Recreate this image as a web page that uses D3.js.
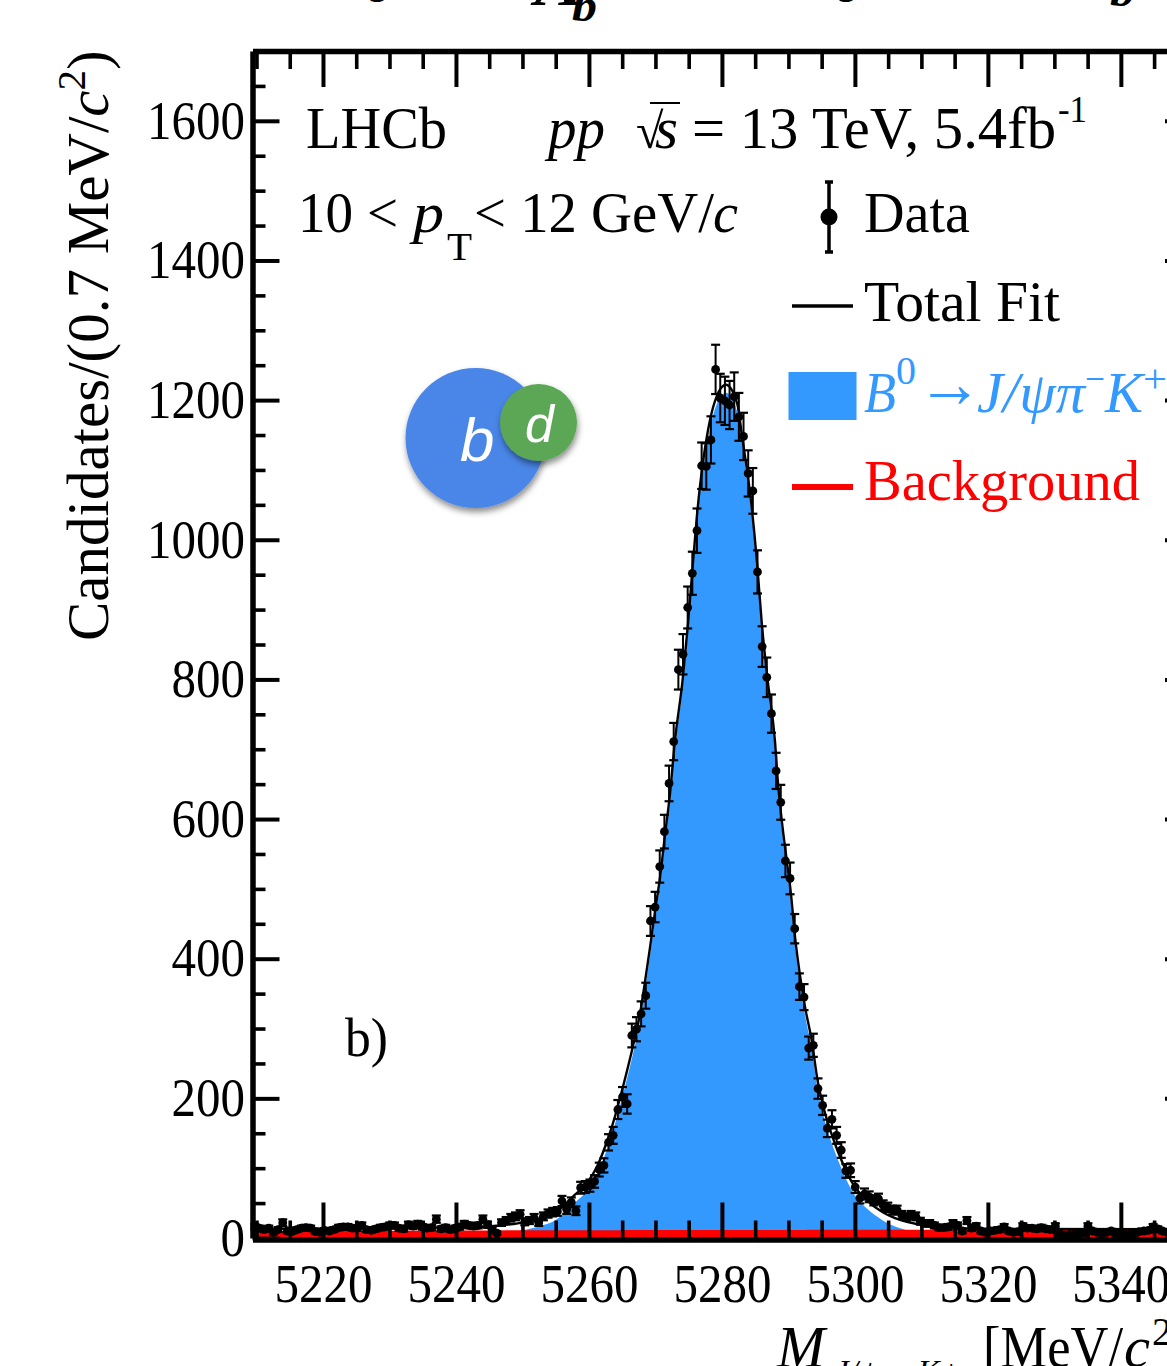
<!DOCTYPE html>
<html>
<head>
<meta charset="utf-8">
<script src="https://cdn.jsdelivr.net/npm/d3@7"></script>
<style>
body { margin: 0; background: #fff; overflow: hidden; }
svg { display: block; }
text { font-family: "Liberation Serif", serif; fill: #000; }
</style>
</head>
<body>
<svg width="1167" height="1366"></svg>
<script>
// bin centres of the histogram (MeV)
var binCenters = [
5209.75,5210.45,5211.15,5211.85,5212.55,5213.25,5213.95,5214.65,5215.35,5216.05,
5216.75,5217.45,5218.15,5218.85,5219.55,5220.25,5220.95,5221.65,5222.35,5223.05,
5223.75,5224.45,5225.15,5225.85,5226.55,5227.25,5227.95,5228.65,5229.35,5230.05,
5230.75,5231.45,5232.15,5232.85,5233.55,5234.25,5234.95,5235.65,5236.35,5237.05,
5237.75,5238.45,5239.15,5239.85,5240.55,5241.25,5241.95,5242.65,5243.35,5244.05,
5244.75,5245.45,5246.15,5246.85,5247.55,5248.25,5248.95,5249.65,5250.35,5251.05,
5251.75,5252.45,5253.15,5253.85,5254.55,5255.25,5255.95,5256.65,5257.35,5258.05,
5258.75,5259.45,5260.15,5260.85,5261.55,5262.25,5262.95,5263.65,5264.35,5265.05,
5265.75,5266.45,5267.15,5267.85,5268.55,5269.25,5269.95,5270.65,5271.35,5272.05,
5272.75,5273.45,5274.15,5274.85,5275.55,5276.25,5276.95,5277.65,5278.35,5279.05,
5279.75,5280.45,5281.15,5281.85,5282.55,5283.25,5283.95,5284.65,5285.35,5286.05,
5286.75,5287.45,5288.15,5288.85,5289.55,5290.25,5290.95,5291.65,5292.35,5293.05,
5293.75,5294.45,5295.15,5295.85,5296.55,5297.25,5297.95,5298.65,5299.35,5300.05,
5300.75,5301.45,5302.15,5302.85,5303.55,5304.25,5304.95,5305.65,5306.35,5307.05,
5307.75,5308.45,5309.15,5309.85,5310.55,5311.25,5311.95,5312.65,5313.35,5314.05,
5314.75,5315.45,5316.15,5316.85,5317.55,5318.25,5318.95,5319.65,5320.35,5321.05,
5321.75,5322.45,5323.15,5323.85,5324.55,5325.25,5325.95,5326.65,5327.35,5328.05,
5328.75,5329.45,5330.15,5330.85,5331.55,5332.25,5332.95,5333.65,5334.35,5335.05,
5335.75,5336.45,5337.15,5337.85,5338.55,5339.25,5339.95,5340.65,5341.35,5342.05,
5342.75,5343.45,5344.15,5344.85,5345.55,5346.25,5346.95,5347.65,5348.35,5349.05,
5349.75,5350.45];

var dataCounts = [
16,14,12,14,8,12,22,10,9,12,
14,15,14,9,8,11,10,12,15,16,
16,14,14,18,12,11,13,15,16,18,
18,14,13,19,17,20,16,14,15,27,
13,15,12,14,16,20,18,17,18,27,
19,12,7,22,25,29,31,34,23,25,
29,22,31,35,37,38,53,41,51,39,
72,73,75,81,98,104,137,147,184,202,
192,290,299,321,347,454,474,532,582,651,
711,814,836,903,952,1013,1106,1105,1143,1244,
1203,1199,1193,1205,1176,1148,1095,1070,954,847,
803,751,669,624,540,515,443,360,345,272,
276,214,190,157,170,147,126,96,97,73,
57,63,59,54,56,47,44,40,40,33,
30,33,31,24,21,21,18,15,15,16,
21,18,10,25,14,17,10,8,10,11,
12,16,10,8,9,17,14,14,13,15,
13,12,17,6,4,5,5,6,7,17,
10,8,6,8,10,5,7,5,5,6,
9,10,11,16,13,10,8,7,8,6,
9,7];

var dataErrors = [
4,3.7,3.5,3.7,2.8,3.5,4.7,3.2,3,3.5,
3.7,3.9,3.7,3,2.8,3.3,3.2,3.5,3.9,4,
4,3.7,3.7,4.2,3.5,3.3,3.6,3.9,4,4.2,
4.2,3.7,3.6,4.4,4.1,4.5,4,3.7,3.9,5.2,
3.6,3.9,3.5,3.7,4,4.5,4.2,4.1,4.2,5.2,
4.4,3.5,2.6,4.7,5,5.4,5.6,5.8,4.8,5,
5.4,4.7,5.6,5.9,6.1,6.2,7.3,6.4,7.1,6.2,
8.5,8.5,8.7,9,9.9,10.2,11.7,12.1,13.6,14.2,
13.9,17,17.3,17.9,18.6,21.3,21.8,23.1,24.1,25.5,
26.7,28.5,28.9,30,30.9,31.8,33.3,33.2,33.8,35.3,
34.7,34.6,34.5,34.7,34.3,33.9,33.1,32.7,30.9,29.1,
28.3,27.4,25.9,25,23.2,22.7,21,19,18.6,16.5,
16.6,14.6,13.8,12.5,13,12.1,11.2,9.8,9.8,8.5,
7.5,7.9,7.7,7.3,7.5,6.9,6.6,6.3,6.3,5.7,
5.5,5.7,5.6,4.9,4.6,4.6,4.2,3.9,3.9,4,
4.6,4.2,3.2,5,3.7,4.1,3.2,2.8,3.2,3.3,
3.5,4,3.2,2.8,3,4.1,3.7,3.7,3.6,3.9,
3.6,3.5,4.1,2.4,2,2.2,2.2,2.4,2.6,4.1,
3.2,2.8,2.4,2.8,3.2,2.2,2.6,2.2,2.2,2.4,
3,3.2,3.3,4,3.6,3.2,2.8,2.6,2.8,2.4,
3,2.6];

// fit curves, read at the points where the line bends
var fitMass = [5209.4,5231.6,5243.6,5246.6,5249.3,5252.6,5255,5257.9,5259.8,5261.2,
5262.4,5263.6,5265.1,5266.6,5267.7,5268.4,5269.2,5269.9,5270.7,5271.4,
5272.2,5272.9,5274.1,5274.9,5275.5,5276.2,5278.2,5279.2,5280.6,5282.3,
5283,5284.5,5285.3,5286,5286.8,5288,5288.4,5289,5289.8,5290.4,
5291,5291.7,5292.5,5293.5,5294.4,5295.2,5297,5298,5299.2,5300.3,
5301.8,5304.2,5306.8,5309.3,5311.7,5315.3,5321.8,5351];
var fitTotal = [13,14.5,16,18,21,28,37,62,80,102,
130,164,216,274,322,365,417,465,517,574,
637,709,800,880,950,1030,1171,1205,1222,1195,
1150,1045,965,880,805,709,655,598,537,491,
431,379,331,283,225,190,135,111,86,69,
54,37,26,20,17,14.5,13,12.5];
var fitBackground = [10,10.5,10.8,10.9,11,11,11.1,11.1,11.2,11.2,
11.2,11.2,11.2,11.3,11.3,11.3,11.3,11.3,11.3,11.3,
11.3,11.4,11.4,11.4,11.4,11.4,11.4,11.4,11.5,11.5,
11.5,11.5,11.5,11.5,11.5,11.6,11.6,11.6,11.6,11.6,
11.6,11.6,11.6,11.7,11.7,11.7,11.7,11.7,11.8,11.8,
11.8,11.8,11.9,11.9,11.9,12,12,12];

var xMajorTicks = [5220,5240,5260,5280,5300,5320,5340];
var xMinorTicks = [5210,5215,5225,5230,5235,5245,5250,5255,5265,5270,5275,5285,5290,5295,5305,5310,5315,5325,5330,5335,5345,5350];
var yMajorTicks = [0,200,400,600,800,1000,1200,1400,1600];
var yMinorTicks = [50,100,150,250,300,350,450,500,550,650,700,750,850,900,950,1050,1100,1150,1250,1300,1350,1450,1500,1550,1650];

var blue = "#3399ff";
var red = "#ff0000";

var svg = d3.select("svg");
var x = d3.scaleLinear().domain([5209.4, 5350.7]).range([252.5, 1192]);
var y = d3.scaleLinear().domain([0, 1700]).range([1238, 51]);

// shadow for the quark picture
var shadow = svg.append("defs").append("filter")
	.attr("id", "shadow")
	.attr("x", "-20%").attr("y", "-20%")
	.attr("width", "140%").attr("height", "140%");
shadow.append("feDropShadow")
	.attr("dx", 1).attr("dy", 4)
	.attr("stdDeviation", 3)
	.attr("flood-color", "#000")
	.attr("flood-opacity", 0.45);

// filled components
var fitPoints = fitMass.map(function(m, i) {
	return { m: m, total: fitTotal[i], bkg: fitBackground[i] };
});

var signalArea = d3.area()
	.x(function(d) { return x(d.m); })
	.y0(y(0))
	.y1(function(d) { return y(d.total - d.bkg); })
	.curve(d3.curveMonotoneX);
var bkgArea = d3.area()
	.x(function(d) { return x(d.m); })
	.y0(y(0))
	.y1(function(d) { return y(d.bkg); })
	.curve(d3.curveMonotoneX);
var totalLine = d3.line()
	.x(function(d) { return x(d.m); })
	.y(function(d) { return y(d.total); })
	.curve(d3.curveMonotoneX);

svg.append("path").attr("d", signalArea(fitPoints)).attr("fill", blue);
svg.append("path").attr("d", bkgArea(fitPoints)).attr("fill", red);

// frame, all four sides carry ticks pointing inward
function drawAxis(axisFn, scale, major, minor, len, minorLen, tx, ty, labels) {
	var g = svg.append("g").attr("transform", "translate(" + tx + "," + ty + ")");
	var a = axisFn(scale).tickValues(major).tickSizeOuter(0).tickSizeInner(len);
	if (labels) a.tickPadding(labels).tickFormat(d3.format("d")); else a.tickFormat("");
	g.call(a);
	g.select(".domain").attr("stroke", "#000").attr("stroke-width", 5.5);
	g.selectAll(".tick line").attr("stroke", "#000").attr("stroke-width", 4);
	var b = axisFn(scale).tickValues(minor).tickSizeOuter(0).tickSizeInner(minorLen).tickFormat("");
	var m = svg.append("g").attr("transform", "translate(" + tx + "," + ty + ")").call(b);
	m.select(".domain").remove();
	m.selectAll(".tick line").attr("stroke", "#000").attr("stroke-width", 3.6);
	return g;
}

var gLeft = drawAxis(d3.axisLeft, y, yMajorTicks, yMinorTicks, -27, -13, 252.5, 0, 7.5);
var gBottom = drawAxis(d3.axisBottom, x, xMajorTicks, xMinorTicks, -37, -19, 0, 1239.5, 24);
drawAxis(d3.axisTop, x, xMajorTicks, xMinorTicks, -36, -18, 0, 51, 0);
drawAxis(d3.axisRight, y, yMajorTicks, yMinorTicks, -27, -13, 1192, 0, 0);

[gLeft, gBottom].forEach(function(g) {
	g.selectAll(".tick text")
		.attr("font-family", "Liberation Serif")
		.attr("font-size", 54)
		.attr("fill", "#000")
		.attr("lengthAdjust", "spacingAndGlyphs")
		.attr("textLength", function(d) { return String(d).length * 24.5; });
});

// fit on top of the fills, data on top of everything
svg.append("path")
	.attr("d", totalLine(fitPoints))
	.attr("fill", "none")
	.attr("stroke", "#000")
	.attr("stroke-width", 2.4);

var points = svg.append("g").selectAll("g")
	.data(binCenters)
	.enter()
	.append("g");
points.append("line")
	.attr("x1", function(d) { return x(d); })
	.attr("x2", function(d) { return x(d); })
	.attr("y1", function(d, i) { return y(dataCounts[i] - dataErrors[i]); })
	.attr("y2", function(d, i) { return y(dataCounts[i] + dataErrors[i]); })
	.attr("stroke", "#000").attr("stroke-width", 2);
[-1, 1].forEach(function(side) {
	points.append("line")
		.attr("x1", function(d) { return x(d) - 4.5; })
		.attr("x2", function(d) { return x(d) + 4.5; })
		.attr("y1", function(d, i) { return y(dataCounts[i] + side * dataErrors[i]); })
		.attr("y2", function(d, i) { return y(dataCounts[i] + side * dataErrors[i]); })
		.attr("stroke", "#000").attr("stroke-width", 2.2);
});
points.append("circle")
	.attr("cx", function(d) { return x(d); })
	.attr("cy", function(d, i) { return y(dataCounts[i]); })
	.attr("r", 4.4)
	.attr("fill", "#000");

// text helper: width is forced because the original glyphs are a little narrow
function label(str, px, py, size, opts) {
	opts = opts || {};
	var t = svg.append("text")
		.attr("x", px).attr("y", py)
		.attr("font-size", size)
		.text(str);
	if (opts.italic) t.attr("font-style", "italic");
	if (opts.bold) t.attr("font-weight", "bold");
	if (opts.color) t.style("fill", opts.color);
	if (opts.width) t.attr("textLength", opts.width).attr("lengthAdjust", "spacingAndGlyphs");
	return t;
}

// header lines
label("LHCb", 306, 148, 60, { width: 141 });
label("pp", 548, 148, 60, { italic: true, width: 57 });
label("√", 636, 148, 50);
label("s", 655, 148, 60, { italic: true, width: 23 });
svg.append("line").attr("x1", 650).attr("x2", 680).attr("y1", 103).attr("y2", 103)
	.attr("stroke", "#000").attr("stroke-width", 2);
label("= 13 TeV, 5.4fb", 692, 148, 60, { width: 364 });
label("-1", 1058, 122, 38, { width: 29 });

label("10 <", 298, 232, 58, { width: 100 });
label("p", 413, 232, 58, { italic: true, width: 31 });
label("T", 447, 260, 40, { width: 25 });
label("< 12 GeV/", 474, 232, 58, { width: 240 });
label("c", 713, 232, 58, { italic: true, width: 25 });

label("b)", 345, 1056, 54, { width: 43 });

// legend
svg.append("line").attr("x1", 829).attr("x2", 829).attr("y1", 182).attr("y2", 252)
	.attr("stroke", "#000").attr("stroke-width", 3.5);
[182, 252].forEach(function(cap) {
	svg.append("line").attr("x1", 825).attr("x2", 833).attr("y1", cap).attr("y2", cap)
		.attr("stroke", "#000").attr("stroke-width", 3.5);
});
svg.append("circle").attr("cx", 829).attr("cy", 217).attr("r", 8.5).attr("fill", "#000");
label("Data", 864, 232, 58, { width: 106 });

svg.append("line").attr("x1", 792).attr("x2", 853).attr("y1", 306).attr("y2", 306)
	.attr("stroke", "#000").attr("stroke-width", 3.6);
label("Total Fit", 864, 321, 58, { width: 196 });

svg.append("rect").attr("x", 788.5).attr("y", 372).attr("width", 68).attr("height", 48).attr("fill", blue);
label("B", 864, 412, 58, { italic: true, color: blue, width: 32 });
label("0", 896, 384, 40, { color: blue, width: 20 });
label("→", 917, 407, 70, { color: blue, width: 66 });
label("J/ψπ", 977, 412, 58, { italic: true, color: blue, width: 108 });
label("−", 1085, 392, 40, { color: blue, width: 20 });
label("K", 1105, 412, 58, { italic: true, color: blue, width: 38 });
label("+", 1143, 392, 40, { color: blue, width: 24 });

svg.append("line").attr("x1", 792).attr("x2", 853).attr("y1", 487).attr("y2", 487)
	.attr("stroke", red).attr("stroke-width", 6);
label("Background", 864, 500, 58, { color: red, width: 276 });

// quark picture
svg.append("circle").attr("cx", 475.5).attr("cy", 438).attr("r", 70)
	.attr("fill", "#4a86e8").attr("filter", "url(#shadow)");
svg.append("circle").attr("cx", 538.5).attr("cy", 422.5).attr("r", 38.5)
	.attr("fill", "#5ba755").attr("filter", "url(#shadow)");
svg.append("text").attr("x", 460).attr("y", 461).attr("font-size", 62)
	.attr("font-style", "italic").style("font-family", "'Liberation Sans'").style("fill", "#fff").text("b");
svg.append("text").attr("x", 525).attr("y", 442).attr("font-size", 52)
	.attr("font-style", "italic").style("font-family", "'Liberation Sans'").style("fill", "#fff").text("d");

// axis titles
var yTitle = svg.append("text")
	.attr("transform", "translate(108,641) rotate(-90)")
	.attr("font-size", 59);
yTitle.append("tspan").text("Candidates/(0.7 MeV/");
yTitle.append("tspan").attr("font-style", "italic").text("c");
yTitle.append("tspan").attr("font-size", 41).attr("dy", -23).text("2");
yTitle.append("tspan").attr("dy", 23).text(")");

label("M", 777, 1367, 60, { italic: true, width: 48 });
label("J/ψπ−K+", 834, 1382, 32, { italic: true, width: 128 });
label("[MeV/", 983, 1367, 60, { width: 140 });
label("c", 1124, 1367, 60, { italic: true, width: 26 });
label("2", 1152, 1345, 40);

// cut off title of the page above the plot
label("Λ", 535, 5, 64, { italic: true, bold: true, width: 50 });
label("b", 572, 21, 46, { italic: true, bold: true, width: 25 });
label("s", 369, 2, 46, { bold: true });
label("s", 838, 2, 46, { bold: true });
label("b", 1110, 6, 46, { italic: true, bold: true, width: 25 });
</script>
</body>
</html>
